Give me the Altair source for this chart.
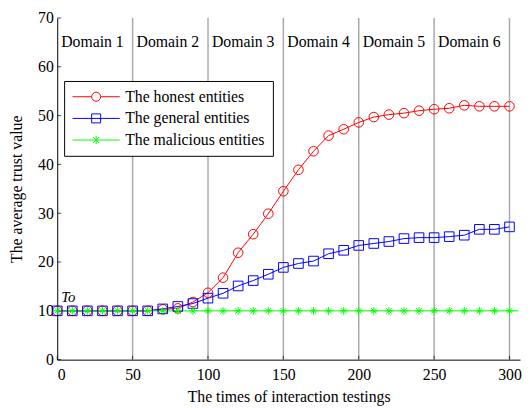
import altair as alt
import pandas as pd

# ---- data ----
x_vals = list(range(0, 301, 10))
honest = [10, 10, 10, 10, 10, 10, 10, 10.3, 10.5, 11.8, 13.7, 16.8, 21.9, 25.7, 29.9,
          34.5, 38.9, 42.7, 45.9, 47.2, 48.6, 49.7, 50.2, 50.5, 51.0, 51.3, 51.5, 52.1,
          51.9, 51.9, 51.9]
general = [10, 10, 10, 10, 10, 10, 10, 10.4, 10.9, 11.5, 12.6, 13.6, 15.1, 16.2, 17.5,
           18.9, 19.7, 20.2, 21.7, 22.4, 23.4, 23.8, 24.2, 24.8, 25.0, 25.0, 25.2, 25.5,
           26.7, 26.7, 27.2]
malicious = [10] * 31
malicious_line_end_x = 306
malicious_line_end_y = 10

series_names = ["The honest entities", "The general entities", "The malicious entities"]
series_colors = ["#ff0000", "#0000ff", "#00ff00"]

domain_starts = [0, 50, 100, 150, 200, 250]
domain_labels = ["Domain 1", "Domain 2", "Domain 3", "Domain 4", "Domain 5", "Domain 6"]
grid_x = [50, 100, 150, 200, 250, 300]
x_ticks = [0, 50, 100, 150, 200, 250, 300]
y_ticks = [0, 10, 20, 30, 40, 50, 60, 70]
to_label = {"x": 0, "y": 11.9, "text": "To"}

FONT = "Liberation Serif"

# ---- tables ----
rows = []
for name, vals in zip(series_names, [honest, general, malicious]):
    for xv, yv in zip(x_vals, vals):
        rows.append({"x": xv, "y": yv, "series": name, "order": xv})
pts = pd.DataFrame(rows)
line_rows = rows + [{"x": malicious_line_end_x, "y": malicious_line_end_y,
                     "series": series_names[2], "order": malicious_line_end_x}]
lines_df = pd.DataFrame(line_rows)

dom_df = pd.DataFrame({"x": domain_starts, "label": domain_labels})
grid_df = pd.DataFrame({"x": grid_x})
xt_df = pd.DataFrame({"x": x_ticks})
yt_df = pd.DataFrame({"y": y_ticks})
to_df = pd.DataFrame([to_label])

xscale = alt.Scale(domain=[0, 307], nice=False, zero=False)
yscale = alt.Scale(domain=[0, 70], nice=False)

ast = "M-0.8,0L0.8,0M0,-0.8L0,0.8M-0.57,-0.57L0.57,0.57M-0.57,0.57L0.57,-0.57"
plot_shapes = ["circle", "square", ast]
leg_circle = ("M-1,0L-0.19,0M0.19,0L1,0M-0.19,0A0.19,0.19 0 1,1 0.19,0"
              "A0.19,0.19 0 1,1 -0.19,0")
leg_square = "M-1,0L1,0M-0.19,-0.19L0.19,-0.19L0.19,0.19L-0.19,0.19Z"
leg_ast = ("M-1,0L1,0M0,-0.17L0,0.17M-0.13,-0.13L0.13,0.13M-0.13,0.13L0.13,-0.13")
legend_shapes = [leg_circle, leg_square, leg_ast]

color_nolegend = alt.Color("series:N", scale=alt.Scale(domain=series_names, range=series_colors), legend=None)

x_axis = alt.Axis(values=x_ticks, ticks=False, grid=False, labelPadding=7,
                  title="The times of interaction testings", titlePadding=7)
y_axis = alt.Axis(values=y_ticks, ticks=False, grid=False, labelPadding=4,
                  title="The average trust value", titlePadding=13)

grid = alt.Chart(grid_df).mark_rule(color="#aaaaaa", strokeWidth=1.5).encode(
    x=alt.X("x:Q", scale=xscale, axis=x_axis),
    y=alt.value(0), y2=alt.value(347))

xticks = alt.Chart(xt_df).mark_tick(color="black", size=4, thickness=1).encode(
    x=alt.X("x:Q", scale=xscale), y=alt.value(345))
yticks = alt.Chart(yt_df).mark_tick(color="black", size=4, thickness=1).encode(
    y=alt.Y("y:Q", scale=yscale, axis=y_axis), x=alt.value(2))

lines = alt.Chart(lines_df).mark_line(strokeWidth=1).encode(
    x=alt.X("x:Q", scale=xscale),
    y=alt.Y("y:Q", scale=yscale),
    color=color_nolegend,
    order="order:Q")

points = alt.Chart(pts).mark_point(filled=False, size=95, strokeWidth=1, opacity=1).encode(
    x=alt.X("x:Q", scale=xscale),
    y=alt.Y("y:Q", scale=yscale),
    color=color_nolegend,
    shape=alt.Shape("series:N", scale=alt.Scale(domain=series_names, range=plot_shapes), legend=None))

legend_layer = alt.Chart(pts).mark_point(filled=False, size=2304, strokeWidth=1, opacity=1).encode(
    x=alt.X("x:Q", scale=xscale),
    y=alt.Y("y:Q", scale=yscale),
    color=alt.Color("series:N", scale=alt.Scale(domain=series_names, range=series_colors),
                    legend=alt.Legend(title=None)),
    shape=alt.Shape("series:N", scale=alt.Scale(domain=series_names, range=legend_shapes),
                    legend=alt.Legend(title=None)),
).transform_filter("false")

dom_text = alt.Chart(dom_df).mark_text(align="left", baseline="alphabetic", dx=4,
                                       font=FONT, fontSize=16, color="black").encode(
    x=alt.X("x:Q", scale=xscale), y=alt.datum(64.1), text="label:N")

to_text = alt.Chart(to_df).mark_text(align="left", baseline="alphabetic", dx=4,
                                     font=FONT, fontSize=15, fontStyle="italic",
                                     color="black").encode(
    x=alt.X("x:Q", scale=xscale), y=alt.Y("y:Q", scale=yscale), text="text:N")

chart = alt.layer(grid, xticks, yticks, dom_text, to_text, lines, points, legend_layer).resolve_scale(
    color="independent", shape="independent"
).properties(
    width=470, height=347,
    autosize=alt.AutoSizeParams(type="none"),
    padding={"left": 50, "top": 7, "right": 3, "bottom": 48},
).configure_view(stroke=None).configure_axis(
    domainColor="black", domainWidth=1,
    labelFont=FONT, labelFontSize=16, labelColor="black",
    titleFont=FONT, titleFontSize=16, titleFontWeight="normal", titleColor="black",
).configure_legend(
    orient="none", legendX=7, legendY=64,
    fillColor="white", strokeColor="black", padding=8,
    labelFont=FONT, labelFontSize=16, labelColor="black", labelOffset=5,
    rowPadding=6, symbolStrokeWidth=1, symbolSize=2304, clipHeight=16,
)

chart.save("out.html", embed_options={"renderer": "svg", "actions": False})
